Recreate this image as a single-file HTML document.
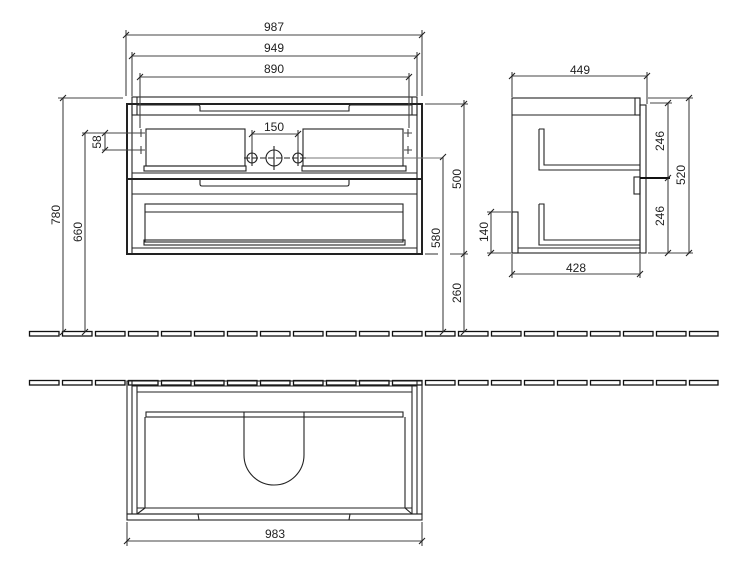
<!DOCTYPE html>
<html><head><style>
html,body{margin:0;padding:0;background:#fff;width:742px;height:566px;overflow:hidden}
svg text{font-family:"Liberation Sans",sans-serif;font-size:12px;fill:#222}
</style></head><body>
<svg width="742" height="566" viewBox="0 0 742 566" xmlns="http://www.w3.org/2000/svg">
<defs>
<g id="gr" fill="#fff" stroke="#111" stroke-width="1.3">
<rect x="29.5" y="0.5" width="29.5" height="4.5"/><rect x="62.5" y="0.5" width="29.5" height="4.5"/><rect x="95.5" y="0.5" width="29.5" height="4.5"/>
<rect x="128.5" y="0.5" width="29.5" height="4.5"/><rect x="161.5" y="0.5" width="29.5" height="4.5"/><rect x="194.5" y="0.5" width="29.5" height="4.5"/>
<rect x="227.5" y="0.5" width="29.5" height="4.5"/><rect x="260.5" y="0.5" width="29.5" height="4.5"/><rect x="293.5" y="0.5" width="29.5" height="4.5"/>
<rect x="326.5" y="0.5" width="29.5" height="4.5"/><rect x="359.5" y="0.5" width="29.5" height="4.5"/><rect x="392.5" y="0.5" width="29.5" height="4.5"/>
<rect x="425.5" y="0.5" width="29.5" height="4.5"/><rect x="458.5" y="0.5" width="29.5" height="4.5"/><rect x="491.5" y="0.5" width="29.5" height="4.5"/>
<rect x="524.5" y="0.5" width="29.5" height="4.5"/><rect x="557.5" y="0.5" width="29.5" height="4.5"/><rect x="590.5" y="0.5" width="29.5" height="4.5"/>
<rect x="623.5" y="0.5" width="29.5" height="4.5"/><rect x="656.5" y="0.5" width="29.5" height="4.5"/><rect x="689.5" y="0.5" width="28.5" height="4.5"/>
</g>
</defs>
<use href="#gr" y="331"/>
<use href="#gr" y="380"/>

<g fill="none" stroke="#222" stroke-width="1.1">
<!-- FRONT VIEW -->
<rect x="132" y="97" width="285" height="18"/>
<line x1="137" y1="97" x2="137" y2="115"/>
<line x1="412" y1="97" x2="412" y2="115"/>
<rect x="127" y="104" width="295" height="150" stroke-width="2"/>
<line x1="132" y1="104" x2="132" y2="254"/>
<line x1="417" y1="104" x2="417" y2="254"/>
<path d="M137 105 H198 Q200 105 200 107 V111 H349 V107 Q349 105 351 105 H412"/>
<rect x="146" y="129" width="99" height="37"/>
<rect x="144" y="166" width="102" height="5"/>
<rect x="303" y="129" width="100" height="37"/>
<rect x="302" y="166" width="104" height="5"/>
<line x1="132" y1="173" x2="417" y2="173"/>
<line x1="127" y1="179" x2="422" y2="179" stroke-width="2"/>
<path d="M200 179 V184 Q200 186 202 186 H347 Q349 186 349 184 V179"/>
<line x1="132" y1="194" x2="417" y2="194"/>
<rect x="145" y="204" width="258" height="38"/>
<line x1="145" y1="212" x2="403" y2="212"/>
<rect x="144" y="240" width="261" height="5"/>
<line x1="132" y1="248" x2="417" y2="248"/>
<circle cx="252" cy="158" r="5"/><circle cx="298" cy="158" r="5"/><circle cx="274" cy="158" r="8"/>
<line x1="244" y1="158" x2="306" y2="158" stroke-dasharray="6 2"/>
<line x1="252" y1="150" x2="252" y2="166"/><line x1="298" y1="150" x2="298" y2="166"/><line x1="274" y1="146" x2="274" y2="170"/>
<line x1="306" y1="158" x2="443" y2="158" stroke="#777"/>
<g stroke="#444">
<path d="M137 133 H145 M141 129 V137 M137 150 H145 M141 146 V154"/>
<path d="M404 133 H412 M408 129 V137 M404 150 H412 M408 146 V154"/>
</g>
<g stroke="#444">
<line x1="126" y1="35" x2="422" y2="35"/><line x1="126" y1="30" x2="126" y2="96"/><line x1="422" y1="30" x2="422" y2="96"/>
<line x1="132" y1="56" x2="417" y2="56"/><line x1="132" y1="52" x2="132" y2="96"/><line x1="417" y1="52" x2="417" y2="96"/>
<line x1="140" y1="77" x2="409" y2="77"/><line x1="140" y1="73" x2="140" y2="128"/><line x1="409" y1="73" x2="409" y2="128"/>
<line x1="252" y1="134" x2="298" y2="134"/><line x1="252" y1="130" x2="252" y2="150"/><line x1="298" y1="130" x2="298" y2="150"/>
<line x1="63" y1="98" x2="63" y2="332"/><line x1="58" y1="98" x2="123" y2="98"/>
<line x1="85" y1="133" x2="85" y2="332"/>
<line x1="105" y1="133" x2="105" y2="150"/>
<line x1="82" y1="133" x2="138" y2="133"/><line x1="102" y1="150" x2="138" y2="150"/>
<line x1="464" y1="100" x2="464" y2="332"/>
<line x1="425" y1="104" x2="468" y2="104"/>
<line x1="425" y1="254" x2="438" y2="254"/><line x1="450" y1="254" x2="468" y2="254"/>
<line x1="443" y1="157" x2="443" y2="332"/>
</g>
<path d="M123 38 L129 32 M419 38 L425 32 M129 59 L135 53 M414 59 L420 53 M137 80 L143 74 M406 80 L412 74 M249 137 L255 131 M295 137 L301 131"/>
<path d="M60 101 L66 95 M60 335 L66 329 M82 136 L88 130 M82 335 L88 329 M102 136 L108 130 M102 153 L108 147 M461 107 L467 101 M461 257 L467 251 M461 335 L467 329 M440 160 L446 154 M440 335 L446 329"/>

<!-- SIDE VIEW -->
<rect x="512" y="98" width="128" height="155"/>
<line x1="512" y1="115" x2="640" y2="115"/>
<rect x="635" y="98" width="5" height="17"/>
<rect x="640" y="105" width="6" height="148"/>
<path d="M539 129 H544 V165 H640 M539 129 V170 H640"/>
<path d="M539 204 H544 V240 H640 M539 204 V245 H640"/>
<rect x="512" y="212" width="6" height="41"/>
<line x1="518" y1="248" x2="640" y2="248"/>
<rect x="634" y="177" width="6" height="17"/>
<g stroke="#444">
<line x1="512" y1="76" x2="647" y2="76"/><line x1="512" y1="72" x2="512" y2="97"/><line x1="647" y1="72" x2="647" y2="104"/>
<line x1="689" y1="98" x2="689" y2="253"/><line x1="648" y1="98" x2="693" y2="98"/><line x1="648" y1="253" x2="693" y2="253"/>
<line x1="668" y1="103" x2="668" y2="253"/><line x1="650" y1="103" x2="672" y2="103"/>
<line x1="491" y1="212" x2="491" y2="253"/><line x1="487" y1="212" x2="511" y2="212"/><line x1="487" y1="253" x2="511" y2="253"/>
<line x1="512" y1="274" x2="640" y2="274"/><line x1="512" y1="254" x2="512" y2="278"/><line x1="640" y1="254" x2="640" y2="278"/>
</g>
<line x1="640" y1="178" x2="670" y2="178" stroke="#111" stroke-width="2"/>
<path d="M509 79 L515 73 M644 79 L650 73 M686 101 L692 95 M686 256 L692 250 M665 106 L671 100 M665 181 L671 175 M665 256 L671 250 M488 215 L494 209 M488 256 L494 250 M509 277 L515 271 M637 277 L643 271"/>

<!-- BOTTOM VIEW -->
<rect x="127" y="381" width="295" height="133"/>
<rect x="127" y="514" width="295" height="6"/>
<line x1="132" y1="381" x2="132" y2="514"/><line x1="417" y1="381" x2="417" y2="514"/>
<line x1="137" y1="386" x2="137" y2="514"/><line x1="412" y1="386" x2="412" y2="514"/>
<line x1="132" y1="386" x2="417" y2="386"/>
<line x1="137" y1="392" x2="412" y2="392"/>
<path d="M145 417 V508 H405 V417"/>
<rect x="146" y="412" width="257" height="5"/>
<line x1="137" y1="514" x2="145" y2="508"/><line x1="412" y1="514" x2="405" y2="508"/>
<line x1="137" y1="508" x2="412" y2="508"/>
<path d="M244 412 V455 A30 30 0 0 0 304 455 V412"/>
<line x1="198" y1="514" x2="199" y2="520"/><line x1="350" y1="514" x2="349" y2="520"/>
<g stroke="#444">
<line x1="127" y1="541" x2="422" y2="541"/><line x1="127" y1="522" x2="127" y2="546"/><line x1="422" y1="522" x2="422" y2="546"/>
</g>
<path d="M124 544 L130 538 M419 544 L425 538"/>
</g>

<text x="274" y="31" text-anchor="middle">987</text>
<text x="274" y="52" text-anchor="middle">949</text>
<text x="274" y="73" text-anchor="middle">890</text>
<text x="274" y="131" text-anchor="middle">150</text>
<text transform="translate(60,215) rotate(-90)" text-anchor="middle">780</text>
<text transform="translate(82,232) rotate(-90)" text-anchor="middle">660</text>
<text transform="translate(101,142) rotate(-90)" text-anchor="middle">58</text>
<text transform="translate(461,179) rotate(-90)" text-anchor="middle">500</text>
<text transform="translate(440,238) rotate(-90)" text-anchor="middle">580</text>
<text transform="translate(461,293) rotate(-90)" text-anchor="middle">260</text>
<text x="580" y="74" text-anchor="middle">449</text>
<text x="576" y="272" text-anchor="middle">428</text>
<text transform="translate(685,175) rotate(-90)" text-anchor="middle">520</text>
<text transform="translate(664,141) rotate(-90)" text-anchor="middle">246</text>
<text transform="translate(664,216) rotate(-90)" text-anchor="middle">246</text>
<text transform="translate(488,232) rotate(-90)" text-anchor="middle">140</text>
<text x="275" y="538" text-anchor="middle">983</text>
</svg>
</body></html>
